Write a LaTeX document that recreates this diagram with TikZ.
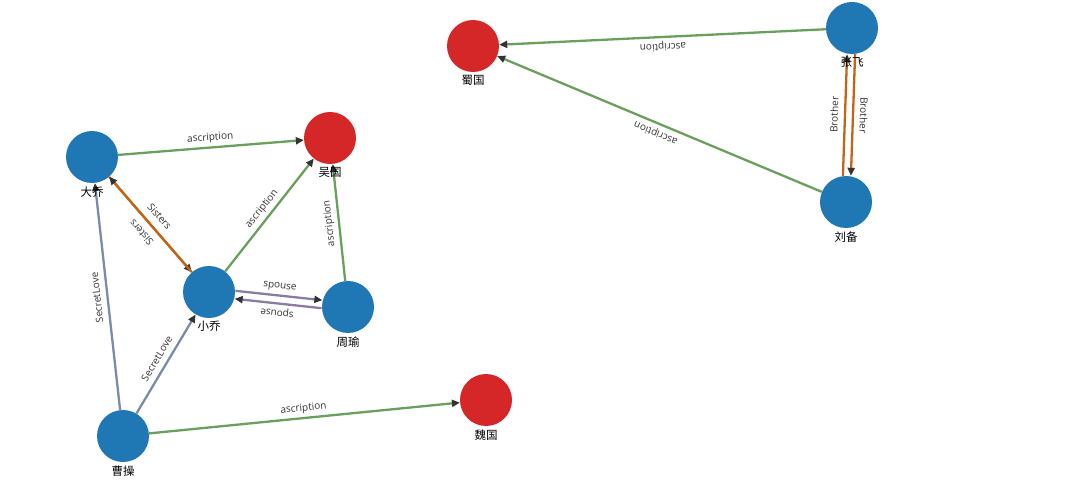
\documentclass[tikz,border=0pt]{standalone}
\usepackage{fontspec}
\setmainfont{Open Sans}
\newfontfamily\cjk{Noto Sans CJK SC}
\usetikzlibrary{arrows.meta}
\definecolor{blu}{HTML}{1F77B4}
\definecolor{rd}{HTML}{D62728}
\definecolor{grn}{HTML}{6A9F5C}
\definecolor{org}{HTML}{C0651A}
\definecolor{pur}{HTML}{8C7CA0}
\definecolor{slt}{HTML}{7D8CA6}
\definecolor{tipc}{HTML}{333333}
\tikzset{
  >={Triangle[length=8pt,width=7pt,color=tipc]},
  ent/.style={circle,fill=blu,minimum size=52pt,inner sep=0pt},
  ctry/.style={ent,fill=rd},
  nm/.style={anchor=north,inner sep=0pt,font=\cjk\fontsize{11.5}{12}\selectfont},
  rel/.style={->,line width=2.3pt},
  lbl/.style={midway,sloped,above,allow upside down,inner sep=3.5pt,text height=7.6pt,text depth=2.4pt,
    text=black!80,font=\fontsize{10}{11}\selectfont},
}

\begin{document}
\begin{tikzpicture}[x=1pt,y=1pt]
\useasboundingbox (0,0) rectangle (1080,496);
\node[ent] (dq) at (92,339){}; \node[ctry] (wu) at (330,358){}; \node[ent] (xq) at (209,204){};
\node[ent] (zy) at (348,189){}; \node[ent] (cc) at (123,60){}; \node[ctry] (wei) at (486,96){};
\node[ctry] (shu) at (473,450){}; \node[ent] (zf) at (852,468){}; \node[ent] (lb) at (846,294){};
% ascription
\draw[rel,grn] (dq)--(wu) node[lbl]{ascription}; \draw[rel,grn] (xq)--(wu) node[lbl]{ascription};
\draw[rel,grn] (zy)--(wu) node[lbl]{ascription}; \draw[rel,grn] (cc)--(wei) node[lbl]{ascription};
\draw[rel,grn] (zf)--(shu) node[lbl]{ascription}; \draw[rel,grn] (lb)--(shu) node[lbl]{ascription};
% people
\draw[rel,org] (dq)--(xq) node[lbl,inner sep=5pt]{Sisters}; \draw[rel,org] (xq)--(dq) node[lbl,inner sep=5pt]{Sisters};
\draw[rel,pur,transform canvas={shift={(0.4,4)}}] (xq)--(zy) node[lbl]{spouse};
\draw[rel,pur,transform canvas={shift={(-0.4,-4)}}] (zy)--(xq) node[lbl]{spouse};
\draw[rel,slt] (cc)--(dq) node[lbl]{SecretLove}; \draw[rel,slt] (cc)--(xq) node[lbl]{SecretLove};
\draw[rel,org,transform canvas={shift={(4,0)}}] (zf)--(lb) node[lbl]{Brother};
\draw[rel,org,transform canvas={shift={(-4,0)}}] (lb)--(zf) node[lbl]{Brother};
% names
\foreach \n/\t in {dq/大乔,wu/吴国,xq/小乔,zy/周瑜,cc/曹操,wei/魏国,shu/蜀国,zf/张飞,lb/刘备}
  \node[nm] (\n-t) at ([yshift=-3pt]\n.south){\t};
\end{tikzpicture}
\end{document}
